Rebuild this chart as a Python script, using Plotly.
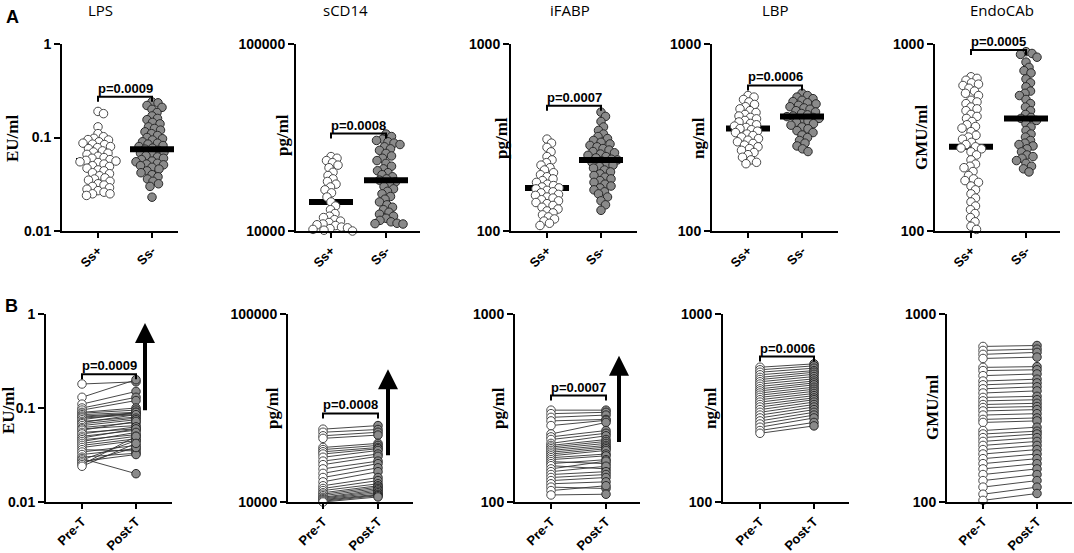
import numpy as np
import plotly.graph_objects as go

W, H = 1074, 553

# ---------------- data ----------------
markers = ["LPS", "sCD14", "iFABP", "LBP", "EndoCAb"]
units = ["EU/ml", "pg/ml", "pg/ml", "ng/ml", "GMU/ml"]
y_bottom = [0.01, 10000, 100, 100, 100]
y_top = [1, 100000, 1000, 1000, 1000]
tick_vals = [[0.01, 0.1, 1], [10000, 100000], [100, 1000], [100, 1000], [100, 1000]]
tick_text = [["0.01", "0.1", "1"], ["10000", "100000"], ["100", "1000"], ["100", "1000"], ["100", "1000"]]
group_labels = ["Ss+", "Ss-"]
time_labels = ["Pre-T", "Post-T"]

p_top = ["p=0.0009", "p=0.0008", "p=0.0007", "p=0.0006", "p=0.0005"]
p_bottom = ["p=0.0009", "p=0.0008", "p=0.0007", "p=0.0006", None]
bracket_top = [0.273, 33200, 467, 600, 929]
bracket_bottom = [0.229, 29600, 368, 594, None]
median_pos = [0.056, 14300, 170, 353, 282]
median_neg = [0.075, 18700, 240, 409, 400]
arrow_tail = [0.091, 17400, 205, 382, None]
arrow_tip = [0.8, 50800, 599, 1090, None]

lps_pos = [0.19, 0.18, 0.13, 0.11, 0.102, 0.098, 0.095, 0.094, 0.09, 0.087, 0.085, 0.084, 0.08, 0.078,
           0.076, 0.072, 0.07, 0.068, 0.066, 0.063, 0.061, 0.06, 0.058, 0.057, 0.056, 0.055, 0.054, 0.052,
           0.05, 0.049, 0.047, 0.045, 0.044, 0.042, 0.041, 0.039, 0.037, 0.036, 0.035, 0.034, 0.032, 0.031,
           0.03, 0.029, 0.028, 0.027, 0.026, 0.025, 0.025, 0.024]
lps_neg = [0.24, 0.235, 0.22, 0.21, 0.2, 0.185, 0.17, 0.16, 0.155, 0.145, 0.14, 0.13, 0.125, 0.12, 0.115,
           0.11, 0.105, 0.1, 0.097, 0.094, 0.09, 0.087, 0.085, 0.082, 0.08, 0.077, 0.075, 0.073, 0.07, 0.068,
           0.066, 0.064, 0.062, 0.06, 0.058, 0.056, 0.055, 0.053, 0.052, 0.051, 0.05, 0.048, 0.046, 0.044,
           0.042, 0.04, 0.038, 0.036, 0.034, 0.032, 0.03, 0.023]
scd14_pos = [25000, 24500, 23800, 23200, 22500, 21800, 20600, 19800, 19000, 18400, 17800, 17200, 16600,
             16000, 15200, 14300, 13600, 13000, 12400, 12000, 11800, 11500, 11300, 11100, 10900, 10800,
             10700, 10500, 10400, 10300, 10200, 10100, 10000]
scd14_neg = [33000, 32000, 31000, 30500, 30000, 29500, 29000, 28200, 27500, 27000, 26000, 25200, 24500,
             23800, 23000, 22200, 21500, 21000, 20500, 20000, 19500, 19000, 18700, 18300, 17800, 17300,
             16800, 16300, 15800, 15300, 14800, 14300, 13800, 13400, 13000, 12600, 12300, 12000, 11700,
             11400, 11200, 11000, 10950, 10900]
ifabp_pos = [310, 295, 280, 265, 250, 240, 232, 225, 218, 212, 205, 200, 195, 190, 186, 182, 178, 175, 172,
             170, 168, 165, 162, 160, 157, 155, 152, 150, 147, 145, 142, 140, 137, 134, 131, 128, 125, 122,
             119, 116, 113, 110, 107]
ifabp_neg = [432, 410, 385, 360, 345, 330, 320, 312, 305, 298, 292, 287, 282, 276, 271, 266, 262, 258, 254,
             250, 246, 242, 240, 237, 233, 229, 225, 221, 217, 212, 207, 202, 198, 194, 190, 186, 182, 178,
             174, 170, 166, 162, 158, 152, 145, 138, 129]
lbp_pos = [530, 520, 505, 490, 475, 462, 450, 440, 430, 420, 412, 405, 398, 390, 383, 376, 370, 364, 358,
           353, 348, 342, 336, 330, 324, 318, 312, 306, 300, 294, 288, 282, 276, 270, 263, 256, 248, 240,
           233, 229]
lbp_neg = [545, 530, 520, 510, 500, 492, 485, 478, 470, 462, 455, 448, 440, 433, 425, 418, 412, 409, 405,
           400, 394, 388, 382, 375, 368, 360, 352, 344, 336, 326, 316, 305, 295, 285, 275, 266]
endo_pos = [668, 655, 640, 620, 610, 600, 580, 560, 545, 530, 500, 490, 480, 460, 450, 440, 420, 410, 400,
            385, 370, 362, 355, 340, 325, 318, 310, 298, 290, 282, 278, 275, 265, 255, 240, 228, 222, 218,
            208, 198, 190, 186, 182, 174, 166, 158, 150, 143, 136, 130, 124, 118, 112, 106, 102]
endo_neg = [910, 890, 880, 850, 800, 750, 720, 700, 650, 620, 590, 560, 545, 530, 505, 480, 460, 440, 420,
            405, 400, 390, 375, 360, 345, 330, 318, 305, 295, 290, 285, 275, 265, 255, 250, 245, 238, 230,
            222, 215, 207]

pre_lps = [0.18, 0.13, 0.11, 0.1, 0.095, 0.09, 0.088, 0.085, 0.082, 0.08, 0.078, 0.075, 0.072, 0.07, 0.068,
           0.065, 0.062, 0.06, 0.058, 0.055, 0.053, 0.05, 0.048, 0.046, 0.044, 0.042, 0.04, 0.038, 0.036,
           0.034, 0.032, 0.03, 0.029, 0.028, 0.027, 0.026, 0.025, 0.024]
post_lps = [0.19, 0.2, 0.15, 0.13, 0.12, 0.1, 0.095, 0.09, 0.088, 0.087, 0.085, 0.09, 0.08, 0.085, 0.078,
            0.075, 0.07, 0.065, 0.072, 0.06, 0.063, 0.058, 0.06, 0.052, 0.055, 0.05, 0.047, 0.045, 0.035,
            0.04, 0.037, 0.033, 0.02, 0.045, 0.032, 0.038, 0.05, 0.042]
pre_scd14 = [24400, 23500, 22500, 21800, 19500, 19000, 18500, 18000, 17300, 16500, 15800, 15000, 14200,
             13500, 12800, 12200, 11800, 11500, 11200, 11000, 10800, 10600, 10500, 10400, 10300, 10200,
             10100, 10000]
post_scd14 = [25500, 24300, 23500, 22700, 20500, 20000, 19500, 19200, 18800, 18000, 17500, 16500, 16000,
              15200, 14500, 13500, 13000, 12500, 12200, 12000, 11800, 11600, 11400, 11200, 11000, 10900,
              10800, 10640]
pre_ifabp = [308, 295, 282, 270, 255, 230, 222, 215, 205, 200, 196, 192, 188, 184, 180, 176, 172, 168, 164,
             160, 156, 150, 145, 140, 135, 130, 125, 120, 115, 109]
post_ifabp = [308, 300, 290, 275, 272, 265, 240, 232, 225, 215, 210, 205, 200, 196, 192, 188, 180, 176, 160,
              168, 150, 165, 155, 145, 140, 135, 128, 118, 122, 110]
pre_lbp = [521, 505, 490, 475, 460, 448, 436, 424, 412, 400, 390, 380, 370, 360, 350, 340, 330, 320, 310,
           300, 290, 280, 270, 260, 250, 240, 232]
post_lbp = [543, 530, 515, 500, 490, 478, 465, 452, 440, 430, 420, 408, 398, 388, 378, 368, 358, 350, 340,
            330, 320, 310, 300, 290, 280, 265, 254]
pre_endo = [672, 640, 610, 580, 520, 500, 470, 440, 420, 400, 380, 360, 345, 330, 318, 305, 290, 275, 265,
            240, 230, 220, 210, 200, 190, 180, 170, 160, 150, 140, 130, 120, 110, 102]
post_endo = [680, 650, 625, 590, 525, 505, 480, 450, 430, 410, 390, 365, 350, 335, 322, 310, 295, 280, 270,
             250, 238, 230, 220, 210, 200, 190, 180, 170, 160, 150, 140, 130, 120, 111]

top_groups = [(lps_pos, lps_neg), (scd14_pos, scd14_neg), (ifabp_pos, ifabp_neg),
              (lbp_pos, lbp_neg), (endo_pos, endo_neg)]
bottom_pairs = [(pre_lps, post_lps), (pre_scd14, post_scd14), (pre_ifabp, post_ifabp),
                (pre_lbp, post_lbp), (pre_endo, post_endo)]

# ---------------- layout geometry (pixels) ----------------
top_axes_px = [(62, 98, 152, 178), (296, 331, 386, 420), (511, 547, 601, 637),
               (712, 748, 802, 838), (935, 971, 1026, 1060)]
bot_axes_px = [(46, 82, 136, 172), (288, 323, 378, 413), (515, 551, 606, 640),
               (723, 760, 814, 849), (947, 983, 1037, 1072)]
top_y_px = (44, 231)
bot_y_px = (314, 502)
arrow_x_px = [145, 388, 619, 826, None]
title_x_px = [100, 345, 570, 775, 1002]
ytitle_top_px = [(13, 138), (282, 135), (502, 138), (699, 138), (922, 138)]
ytitle_bot_px = [(8, 410), (272, 408), (498, 408), (710, 408), (932, 408)]

MS = 8.5
FILL_POS = "white"
FILL_NEG = "#8a8a8a"
EDGE_POS = "#4a4a4a"
EDGE_NEG = "#2a2a2a"
TICKFONT = dict(family="Liberation Sans, Arial", size=14, color="black", weight="bold")
XTICKFONT = dict(family="Liberation Sans, Arial", size=13, color="black", weight="bold")


def swarm(vals, ylo, yhi, hpx, d):
    lv = np.log10(np.asarray(vals, dtype=float))
    ypx = (lv - np.log10(ylo)) / (np.log10(yhi) - np.log10(ylo)) * hpx
    order = np.argsort(-ypx)
    placed = []
    offs = np.zeros(len(lv))
    for i in order:
        best = None
        k = 0
        while best is None:
            cands = [0.0] if k == 0 else [k * 0.5, -k * 0.5]
            for s in cands:
                if all((s - ox) ** 2 + (ypx[i] - oy) ** 2 >= d * d for ox, oy in placed):
                    best = s
                    break
            k += 1
        offs[i] = best
        placed.append((best, ypx[i]))
    return offs


fig = go.Figure()
layout = dict(width=W, height=H, margin=dict(l=0, r=0, t=0, b=0, autoexpand=False),
              paper_bgcolor="white", plot_bgcolor="white", showlegend=False)
annotations = []


def add_axes(n, axpx, ypx, i, xlabels):
    ax, c1, c2, end = axpx
    unit = c2 - c1
    xr = [1 - (c1 - ax) / unit, 1 + (end - c1) / unit]
    sx = "" if n == 1 else str(n)
    layout["xaxis" + sx] = dict(domain=[ax / W, end / W], range=xr, anchor="y" + sx,
                                tickvals=[1, 2], ticktext=xlabels, tickangle=-45,
                                showline=True, linecolor="black", linewidth=2,
                                ticks="outside", ticklen=5, tickwidth=2, tickcolor="black",
                                showgrid=False, zeroline=False, tickfont=XTICKFONT,
                                automargin=False, fixedrange=True)
    layout["yaxis" + sx] = dict(domain=[1 - ypx[1] / H, 1 - ypx[0] / H], type="log",
                                range=[np.log10(y_bottom[i]), np.log10(y_top[i])], anchor="x" + sx,
                                tickvals=tick_vals[i], ticktext=tick_text[i],
                                showline=True, linecolor="black", linewidth=2,
                                ticks="outside", ticklen=6, tickwidth=2, tickcolor="black",
                                showgrid=False, zeroline=False, tickfont=TICKFONT,
                                automargin=False, fixedrange=True)
    return "x" + sx, "y" + sx, unit


def bracket(xa, ya, yb, hpx, i, text):
    dec = np.log10(y_top[i]) - np.log10(y_bottom[i])
    ylow = 10 ** (np.log10(yb) - 5 * dec / hpx)
    fig.add_trace(go.Scatter(x=[1, 1, 2, 2], y=[ylow, yb, yb, ylow], mode="lines",
                             line=dict(color="black", width=2), xaxis=xa, yaxis=ya, hoverinfo="skip"))
    annotations.append(dict(x=1.5, y=np.log10(yb), xref=xa, yref=ya, text=text, showarrow=False,
                            yanchor="bottom", yshift=-1,
                            font=dict(family="Liberation Sans, Arial", size=13, color="black",
                                      weight="bold")))


# ---------------- top row ----------------
for i in range(5):
    n = i + 1
    xa, ya, unit = add_axes(n, top_axes_px[i], top_y_px, i, group_labels)
    hpx = top_y_px[1] - top_y_px[0]
    pos, neg = top_groups[i]
    half = 22 / unit
    fig.add_trace(go.Scatter(x=[1 - half, 1 + half], y=[median_pos[i]] * 2, mode="lines",
                             line=dict(color="black", width=6), xaxis=xa, yaxis=ya, hoverinfo="skip"))
    for g, (vals, fill, edge) in enumerate([(pos, FILL_POS, EDGE_POS), (neg, FILL_NEG, EDGE_NEG)]):
        offs = swarm(vals, y_bottom[i], y_top[i], hpx, 5.9)
        fig.add_trace(go.Scatter(x=(g + 1) + offs / unit, y=vals, mode="markers",
                                 marker=dict(size=MS, color=fill, line=dict(color=edge, width=1)),
                                 xaxis=xa, yaxis=ya, cliponaxis=False, hoverinfo="skip"))
    fig.add_trace(go.Scatter(x=[2 - half, 2 + half], y=[median_neg[i]] * 2, mode="lines",
                             line=dict(color="black", width=6), xaxis=xa, yaxis=ya, hoverinfo="skip"))
    bracket(xa, ya, bracket_top[i], hpx, i, p_top[i])
    annotations.append(dict(x=title_x_px[i] / W, y=1 - 10 / H, xref="paper", yref="paper",
                            text=markers[i], showarrow=False, xanchor="center", yanchor="middle",
                            font=dict(family="Open Sans, Liberation Sans", size=15, color="black")))
    tx, ty = ytitle_top_px[i]
    annotations.append(dict(x=tx / W, y=1 - ty / H, xref="paper", yref="paper", text=units[i],
                            showarrow=False, textangle=-90, xanchor="center", yanchor="middle",
                            font=dict(family="Liberation Serif, Times New Roman", size=17,
                                      color="black", weight="bold")))

# ---------------- bottom row ----------------
for i in range(5):
    n = i + 6
    xa, ya, unit = add_axes(n, bot_axes_px[i], bot_y_px, i, time_labels)
    hpx = bot_y_px[1] - bot_y_px[0]
    pre, post = bottom_pairs[i]
    lx, ly = [], []
    for a, b in zip(pre, post):
        lx += [1, 2, None]
        ly += [a, b, None]
    fig.add_trace(go.Scatter(x=lx, y=ly, mode="lines", line=dict(color="#333333", width=0.9),
                             xaxis=xa, yaxis=ya, hoverinfo="skip", connectgaps=False))
    fig.add_trace(go.Scatter(x=[1] * len(pre), y=pre, mode="markers",
                             marker=dict(size=MS, color=FILL_POS, line=dict(color=EDGE_POS, width=1)),
                             xaxis=xa, yaxis=ya, cliponaxis=False, hoverinfo="skip"))
    fig.add_trace(go.Scatter(x=[2] * len(post), y=post, mode="markers",
                             marker=dict(size=MS, color=FILL_NEG, line=dict(color=EDGE_NEG, width=1)),
                             xaxis=xa, yaxis=ya, cliponaxis=False, hoverinfo="skip"))
    if bracket_bottom[i] is not None:
        bracket(xa, ya, bracket_bottom[i], hpx, i, p_bottom[i])
    if arrow_tip[i] is not None:
        dec = np.log10(y_top[i]) - np.log10(y_bottom[i])
        ppd = hpx / dec
        xarr = 1 + (arrow_x_px[i] - bot_axes_px[i][1]) / unit
        annotations.append(dict(x=xarr, y=np.log10(arrow_tip[i]), xref=xa, yref=ya, text="",
                                showarrow=True, ax=0,
                                ay=(np.log10(arrow_tip[i]) - np.log10(arrow_tail[i])) * ppd,
                                arrowhead=2, arrowsize=1.0, arrowwidth=4, arrowcolor="black"))
    tx, ty = ytitle_bot_px[i]
    annotations.append(dict(x=tx / W, y=1 - ty / H, xref="paper", yref="paper", text=units[i],
                            showarrow=False, textangle=-90, xanchor="center", yanchor="middle",
                            font=dict(family="Liberation Serif, Times New Roman", size=17,
                                      color="black", weight="bold")))

for lab, (lx_, ly_) in zip(["A", "B"], [(12, 17), (11, 306)]):
    annotations.append(dict(x=lx_ / W, y=1 - ly_ / H, xref="paper", yref="paper", text=lab,
                            showarrow=False, xanchor="center", yanchor="middle",
                            font=dict(family="Liberation Sans, Arial", size=18, color="black",
                                      weight="bold")))

layout["annotations"] = annotations
fig.update_layout(**layout)
fig.write_html("out.html", config={"displayModeBar": False},
               post_script="document.body.style.margin='0';document.body.style.overflow='hidden';")
